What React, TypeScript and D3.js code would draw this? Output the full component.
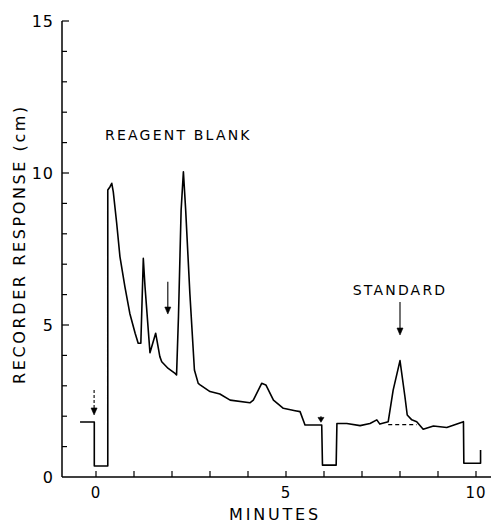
import React, { useEffect, useRef } from "react";
import * as d3 from "d3";

// Trace (minutes, cm)
const traceTime = [
  -0.42, -0.045, -0.045, 0.31, 0.31, 0.37, 0.415, 0.455, 0.545, 0.63, 0.76, 0.89, 1.03, 1.11, 1.18,
  1.245, 1.29, 1.42, 1.57, 1.68, 1.73, 1.9, 2.08, 2.12, 2.17, 2.24, 2.3, 2.36, 2.47, 2.59,
  2.69, 2.74, 3.0, 3.26, 3.53, 4.05, 4.14, 4.36, 4.47, 4.67, 4.93, 5.24, 5.37, 5.5, 5.94,
  5.96, 6.32, 6.34, 6.6, 6.95, 7.21, 7.39, 7.47, 7.69, 7.82, 8.0, 8.13, 8.19, 8.31, 8.44,
  8.61, 8.88, 9.23, 9.67, 9.68, 10.12, 10.12,
];
const traceResponse = [
  1.81, 1.81, 0.36, 0.36, 9.44, 9.55, 9.66, 9.38, 8.34, 7.25, 6.26, 5.38, 4.73, 4.4, 4.4,
  7.19, 6.26, 4.09, 4.73, 3.96, 3.79, 3.57, 3.41, 3.36, 5.27, 8.78, 10.04, 8.78, 6.04, 3.52,
  3.08, 3.03, 2.81, 2.73, 2.53, 2.44, 2.53, 3.08, 3.03, 2.53, 2.26, 2.18, 2.15, 1.71, 1.71,
  0.39, 0.39, 1.76, 1.76, 1.69, 1.76, 1.88, 1.74, 1.82, 2.86, 3.83, 2.64, 2.04, 1.88, 1.82,
  1.57, 1.68, 1.63, 1.82, 0.45, 0.45, 0.89,
];

// Dashed baseline under the standard peak
const baselineTime = [7.69, 8.44];
const baselineResponse = [1.72, 1.72];

const yTicks = [0, 5, 10, 15];
const yMinorTicks = d3.range(0, 16, 1);
const xTicks = [0, 5, 10];
const xMinorTicks = d3.range(0, 11, 1);

const arrows = [
  { t: 1.89, from: 6.42, to: 5.36, dashed: false },
  { t: 8.0, from: 5.76, to: 4.67, dashed: false },
  { t: -0.05, from: 2.86, to: 2.04, dashed: true },
  { t: 5.92, from: 2.0, to: 1.8, dashed: false },
];

const labels = [
  { text: "REAGENT BLANK", t: 0.24, v: 11.1, anchor: "start" },
  { text: "STANDARD", t: 8.0, v: 6.0, anchor: "middle" },
];

export default function App() {
  const svgRef = useRef<SVGSVGElement>(null);
  const width = 492;
  const height = 525;

  useEffect(() => {
    const svg = d3.select(svgRef.current);
    svg.selectAll("*").remove();

    const font = "'DejaVu Sans', sans-serif";
    const x = d3.scaleLinear().domain([0, 10]).range([96, 476]);
    const y = d3.scaleLinear().domain([0, 15]).range([477, 21]);
    const axisLeft = 62;

    // Axes
    svg
      .append("line")
      .attr("x1", axisLeft)
      .attr("x2", axisLeft)
      .attr("y1", y(0))
      .attr("y2", y(15))
      .attr("stroke", "#000")
      .attr("stroke-width", 1.5);
    svg
      .append("line")
      .attr("x1", axisLeft)
      .attr("x2", 491)
      .attr("y1", y(0))
      .attr("y2", y(0))
      .attr("stroke", "#000")
      .attr("stroke-width", 1.5);

    // Y ticks (inside)
    svg
      .append("g")
      .selectAll("line")
      .data(yMinorTicks.filter((d) => d > 0))
      .enter()
      .append("line")
      .attr("x1", axisLeft)
      .attr("x2", (d) => (d % 5 === 0 ? axisLeft + 7 : axisLeft + 5))
      .attr("y1", (d) => y(d))
      .attr("y2", (d) => y(d))
      .attr("stroke", "#000")
      .attr("stroke-width", 1.2);

    svg
      .append("g")
      .selectAll("text")
      .data(yTicks)
      .enter()
      .append("text")
      .attr("x", axisLeft - 8)
      .attr("y", (d) => y(d) + 6)
      .attr("text-anchor", "end")
      .attr("font-family", font)
      .attr("font-size", 16)
      .attr("letter-spacing", 1)
      .text((d) => d);

    // X ticks (inside)
    svg
      .append("g")
      .selectAll("line")
      .data(xMinorTicks)
      .enter()
      .append("line")
      .attr("x1", (d) => x(d))
      .attr("x2", (d) => x(d))
      .attr("y1", y(0))
      .attr("y2", y(0) - 6)
      .attr("stroke", "#000")
      .attr("stroke-width", 1.2);

    svg
      .append("g")
      .selectAll("text")
      .data(xTicks)
      .enter()
      .append("text")
      .attr("x", (d) => x(d))
      .attr("y", y(0) + 21)
      .attr("text-anchor", "middle")
      .attr("font-family", font)
      .attr("font-size", 15)
      .attr("letter-spacing", 1)
      .text((d) => d);

    // Axis titles
    svg
      .append("text")
      .attr("x", 275)
      .attr("y", 520)
      .attr("text-anchor", "middle")
      .attr("font-family", font)
      .attr("font-size", 16)
      .attr("letter-spacing", 2.8)
      .text("MINUTES");

    svg
      .append("text")
      .attr("transform", "translate(25,244) rotate(-90)")
      .attr("text-anchor", "middle")
      .attr("font-family", font)
      .attr("font-size", 16)
      .attr("letter-spacing", 2.6)
      .text("RECORDER RESPONSE (cm)");

    // Trace
    const traceData = traceTime.map((t, i) => [t, traceResponse[i]] as [number, number]);
    const line = d3
      .line<[number, number]>()
      .x((d) => x(d[0]))
      .y((d) => y(d[1]));

    svg
      .append("path")
      .attr("d", line(traceData))
      .attr("fill", "none")
      .attr("stroke", "#000")
      .attr("stroke-width", 1.6)
      .attr("stroke-linejoin", "round");

    const baseData = baselineTime.map((t, i) => [t, baselineResponse[i]] as [number, number]);
    svg
      .append("path")
      .attr("d", line(baseData))
      .attr("fill", "none")
      .attr("stroke", "#000")
      .attr("stroke-width", 1.2)
      .attr("stroke-dasharray", "4,3");

    // Arrows
    arrows.forEach((a) => {
      const ax = x(a.t);
      const y1 = y(a.from);
      const y2 = y(a.to);
      svg
        .append("line")
        .attr("x1", ax)
        .attr("x2", ax)
        .attr("y1", y1)
        .attr("y2", y2 - 2)
        .attr("stroke", "#000")
        .attr("stroke-width", 1.1)
        .attr("stroke-dasharray", a.dashed ? "3,2" : null);
      const hl = Math.min(7, (y2 - y1) * 0.8);
      svg
        .append("path")
        .attr("d", `M${ax - 3},${y2 - hl} L${ax},${y2} L${ax + 3},${y2 - hl} Z`)
        .attr("fill", "#000")
        .attr("stroke", "#000")
        .attr("stroke-width", 0.6);
    });

    // Annotations
    labels.forEach((l) => {
      svg
        .append("text")
        .attr("x", x(l.t))
        .attr("y", y(l.v))
        .attr("text-anchor", l.anchor)
        .attr("font-family", font)
        .attr("font-size", 14)
        .attr("letter-spacing", 2.2)
        .text(l.text);
    });
  }, []);

  return (
    <svg
      ref={svgRef}
      width={width}
      height={height}
      style={{ position: "absolute", left: 0, top: 0, background: "#fff" }}
    />
  );
}
